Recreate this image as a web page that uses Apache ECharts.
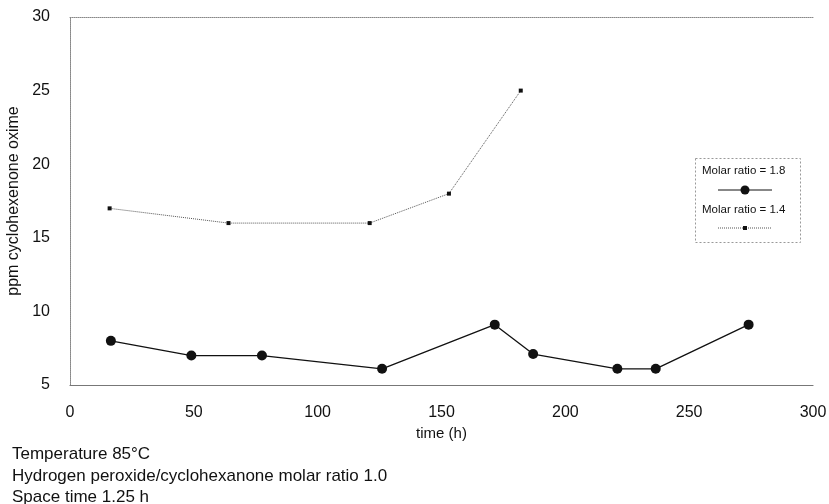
<!DOCTYPE html>
<html>
<head>
<meta charset="utf-8">
<script src="https://cdn.jsdelivr.net/npm/echarts@6/dist/echarts.min.js"></script>
<style>
  html, body { margin: 0; padding: 0; background: #fff; }
  #chart { width: 829px; height: 504px; }
</style>
</head>
<body>
<div id="chart"></div>
<script>
// data: [time (h), ppm]
const ratio18 = [[16.5, 8], [49, 7], [77.5, 7], [126, 6.1], [171.5, 9.1], [187, 7.1], [221, 6.1], [236.5, 6.1], [274, 9.1]];
const ratio14 = [[16, 17], [64, 16], [121, 16], [153, 18], [182, 25]];
const seriesNames = ['Molar ratio = 1.8', 'Molar ratio = 1.4'];
const notes = ['Temperature 85°C', 'Hydrogen peroxide/cyclohexanone molar ratio 1.0', 'Space time 1.25 h'];

const font = 'Arial, "Liberation Sans", Helvetica, sans-serif';
const ink = '#111';

const chart = echarts.init(document.getElementById('chart'));

// plain frame line for the unlabeled top / right axes
const frameLine = { show: true, lineStyle: { color: '#888', width: 1, type: 'dotted' } };

chart.setOption({
    backgroundColor: '#fff',
    animation: false,
    textStyle: { fontFamily: font },
    title: {
        text: notes.join('\n'),
        left: 12,
        top: 444,
        padding: 0,
        textStyle: { fontFamily: font, fontSize: 17, fontWeight: 'normal', color: ink, lineHeight: 21.5 }
    },
    grid: { left: 70, right: 16, top: 17, bottom: 119, outerBoundsMode: 'none' },
    xAxis: [
        {
            type: 'value', min: 0, max: 300, interval: 50,
            name: 'time (h)', nameLocation: 'middle', nameGap: 40,
            nameTextStyle: { fontSize: 15, color: ink, fontFamily: font },
            axisLine: { show: true, lineStyle: { color: '#777', width: 1.2 } },
            axisTick: { show: false },
            splitLine: { show: false },
            axisLabel: { fontSize: 16, color: ink, margin: 20, fontFamily: font }
        },
        {
            type: 'value', position: 'top', min: 0, max: 300,
            axisLine: frameLine, axisTick: { show: false },
            axisLabel: { show: false }, splitLine: { show: false }
        }
    ],
    yAxis: [
        {
            type: 'value', min: 5, max: 30, interval: 5,
            name: 'ppm cyclohexenone oxime', nameLocation: 'middle', nameGap: 36,
            nameTextStyle: { fontSize: 16, color: ink, fontFamily: font },
            axisLine: { show: true, lineStyle: { color: '#888', width: 1, type: 'dotted' } },
            axisTick: { show: false },
            splitLine: { show: false },
            axisLabel: { fontSize: 16, color: ink, margin: 20, fontFamily: font }
        },
        {
            type: 'value', position: 'right', min: 5, max: 30,
            axisLine: frameLine, axisTick: { show: false },
            axisLabel: { show: false }, splitLine: { show: false }
        }
    ],
    series: [
        {
            name: seriesNames[0],
            type: 'line',
            data: ratio18,
            symbol: 'circle',
            symbolSize: 10,
            itemStyle: { color: ink },
            lineStyle: { color: ink, width: 1.3 }
        },
        {
            name: seriesNames[1],
            type: 'line',
            data: ratio14,
            symbol: 'rect',
            symbolSize: 4,
            itemStyle: { color: ink },
            lineStyle: { color: '#555', width: 1, type: 'dotted' }
        }
    ],
    // legend drawn by hand so the sample line sits under its label, as in the original
    graphic: [
        {
            type: 'rect', left: 693, top: 156,
            shape: { width: 105, height: 84 },
            style: { fill: 'none', stroke: '#999', lineWidth: 1, lineDash: [2, 2] }
        },
        {
            type: 'text', left: 702, top: 165,
            style: { text: seriesNames[0], font: '11.5px ' + font, fill: ink }
        },
        {
            type: 'line', shape: { x1: 718, y1: 190, x2: 772, y2: 190 },
            style: { stroke: ink, lineWidth: 1 }
        },
        {
            type: 'circle', shape: { cx: 745, cy: 190, r: 4.5 },
            style: { fill: ink }
        },
        {
            type: 'text', left: 702, top: 204,
            style: { text: seriesNames[1], font: '11.5px ' + font, fill: ink }
        },
        {
            type: 'line', shape: { x1: 718, y1: 228, x2: 772, y2: 228 },
            style: { stroke: '#555', lineWidth: 1, lineDash: [1, 1] }
        },
        {
            type: 'rect', shape: { x: 743, y: 226, width: 4, height: 4 },
            style: { fill: ink }
        }
    ]
});

window.addEventListener('resize', () => {
    chart.resize();
});
</script>
</body>
</html>
